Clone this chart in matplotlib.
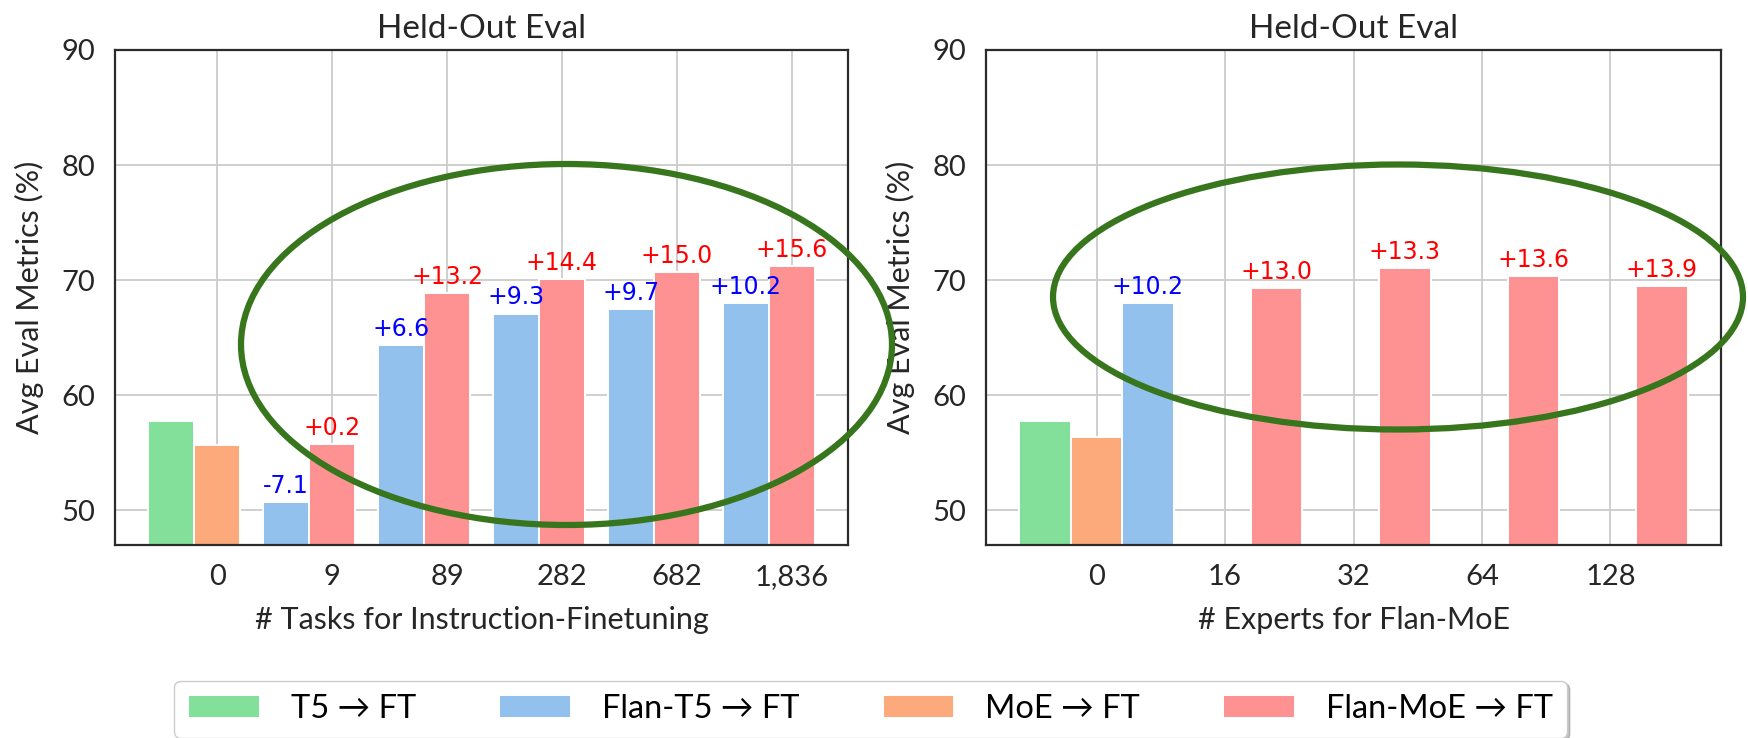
import matplotlib
matplotlib.use("Agg")
import matplotlib.pyplot as plt
from matplotlib.patches import Ellipse
import numpy as np

plt.rcParams['font.family'] = ['Lato', 'DejaVu Sans']

# left: number of instruction-finetuning tasks
task_ticks = ['0', '9', '89', '282', '682', '1,836']
t5_ft = 57.8
moe_ft_tasks = 55.65
flan_t5_tasks = [50.7, 64.4, 67.1, 67.5, 68.0]
flan_moe_tasks = [55.8, 68.9, 70.1, 70.7, 71.2]
flan_t5_task_gain = ['-7.1', '+6.6', '+9.3', '+9.7', '+10.2']
flan_moe_task_gain = ['+0.2', '+13.2', '+14.4', '+15.0', '+15.6']

# right: number of experts
expert_ticks = ['0', '16', '32', '64', '128']
moe_ft_experts = 56.35
flan_t5_experts = 68.0
flan_t5_expert_gain = '+10.2'
flan_moe_experts = [69.3, 71.05, 70.35, 69.5]
flan_moe_expert_gain = ['+13.0', '+13.3', '+13.6', '+13.9']

GREEN = '#82e09a'
BLUE = '#92c1ee'
ORANGE = '#fca97b'
RED = '#fe9292'
W = 0.4
bar_kw = dict(width=W, edgecolor='white', linewidth=1.4)


def style(ax, ticks, xlabel):
    ax.set_ylim(47, 90)
    ax.set_yticks([50, 60, 70, 80, 90])
    ax.set_xticks(range(len(ticks)))
    ax.set_xticklabels(ticks)
    ax.tick_params(length=0, pad=14, labelsize=21, labelcolor='#262626')
    ax.grid(True, color='#cccccc', linewidth=1.3)
    ax.set_axisbelow(True)
    for s in ax.spines.values():
        s.set_color('#2b2b2b')
        s.set_linewidth(1.6)
    ax.set_title('Held-Out Eval', fontsize=24, pad=9, color='#262626')
    ax.set_xlabel(xlabel, fontsize=22, labelpad=11, color='#262626')
    ax.set_ylabel('Avg Eval Metrics (%)', fontsize=22, labelpad=13, color='#262626')


def gain(ax, x, y, txt, color):
    ax.annotate(txt, (x, y), xytext=(0, 3), textcoords='offset points',
                ha='center', va='bottom', color=color, fontsize=17,
                family='DejaVu Sans')


fig = plt.figure(figsize=(17.48, 7.38), dpi=100)
ax1 = fig.add_axes([115 / 1748, 1 - 545 / 738, 733 / 1748, 495 / 738])
ax2 = fig.add_axes([986 / 1748, 1 - 545 / 738, 735 / 1748, 495 / 738])

# ---- tasks
x = np.arange(1, len(task_ticks))
h_t5 = ax1.bar(-W, t5_ft, color=GREEN, **bar_kw)
h_moe = ax1.bar(0, moe_ft_tasks, color=ORANGE, **bar_kw)
h_ft5 = ax1.bar(x - W, flan_t5_tasks, color=BLUE, **bar_kw)
h_fmoe = ax1.bar(x, flan_moe_tasks, color=RED, **bar_kw)
for i in range(len(x)):
    gain(ax1, x[i] - W, flan_t5_tasks[i], flan_t5_task_gain[i], 'blue')
    gain(ax1, x[i], flan_moe_tasks[i], flan_moe_task_gain[i], 'red')
style(ax1, task_ticks, '# Tasks for Instruction-Finetuning')

# ---- experts
x = np.arange(1, len(expert_ticks))
ax2.bar(-W, t5_ft, color=GREEN, **bar_kw)
ax2.bar(0, moe_ft_experts, color=ORANGE, **bar_kw)
ax2.bar(W, flan_t5_experts, color=BLUE, **bar_kw)
ax2.bar(x + W, flan_moe_experts, color=RED, **bar_kw)
gain(ax2, W, flan_t5_experts, flan_t5_expert_gain, 'blue')
for i in range(len(x)):
    gain(ax2, x[i] + W, flan_moe_experts[i], flan_moe_expert_gain[i], 'red')
style(ax2, expert_ticks, '# Experts for Flan-MoE')

# highlight rings
for cx, cy, ew, eh in [(566.5, 344.5, 651, 361), (1398, 297, 690, 265)]:
    fig.add_artist(Ellipse((cx / 1748, 1 - cy / 738), ew / 1748, eh / 738,
                           transform=fig.transFigure, fill=False,
                           edgecolor='#38761d', linewidth=4.5, zorder=10))

fig.legend([h_t5, h_ft5, h_moe, h_fmoe],
           ['T5 → FT', 'Flan-T5 → FT', 'MoE → FT', 'Flan-MoE → FT'],
           loc='lower center', bbox_to_anchor=(0.498, 0.0), ncol=4,
           fontsize=23.5, fancybox=True, borderaxespad=0, borderpad=0.42,
           handlelength=2.2, handletextpad=0.95, columnspacing=2.55,
           edgecolor='#cccccc', framealpha=1,
           shadow={'ox': 2, 'oy': -2, 'color': '#999999', 'alpha': 0.6})

fig.savefig('out.png', dpi=100, facecolor='white')
